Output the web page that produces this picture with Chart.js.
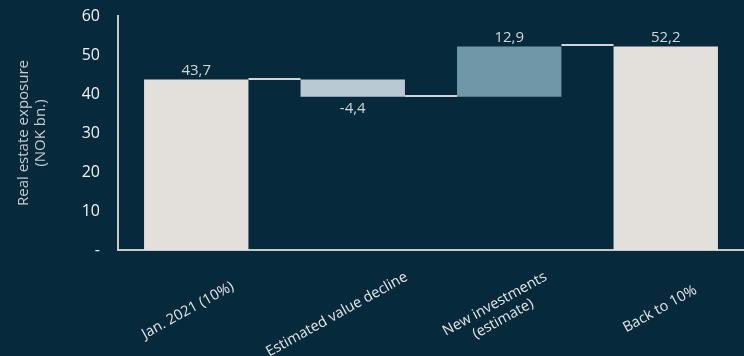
<!DOCTYPE html>
<html>
<head>
<meta charset="utf-8">
<script src="https://cdn.jsdelivr.net/npm/chart.js@4/dist/chart.umd.min.js"></script>
<style>
  html, body { margin: 0; padding: 0; background: #062a3b; }
  #wrap { width: 744px; height: 356px; position: relative; }
</style>
</head>
<body>
<div id="wrap"><canvas id="chart"></canvas></div>
<script>
// waterfall data (NOK bn.)
const categories = ["Jan. 2021 (10%)", "Estimated value decline", ["New investments", "(estimate)"], "Back to 10%"];
const steps = [43.7, -4.4, 12.9, 52.2];
const isTotal = [true, false, false, true];
const barColors = ["#e3e0dc", "#b8c9d3", "#6f97a8", "#e3e0dc"];
const yTicks = [0, 10, 20, 30, 40, 50, 60];

// build floating ranges from the steps
let running = 0;
const ranges = [];
const levels = [];
steps.forEach((v, i) => {
  if (isTotal[i]) {
    ranges.push([0, v]);
    running = v;
  } else {
    ranges.push([running, running + v]);
    running = running + v;
  }
  levels.push(running);
});

const fmt = (v) => v.toFixed(1).replace(".", ",");

// connectors between bars + value labels
const waterfallPlugin = {
  id: "waterfall",
  afterDatasetsDraw(chart) {
    const ctx = chart.ctx;
    const meta = chart.getDatasetMeta(0);
    const y = chart.scales.y;
    ctx.save();
    ctx.strokeStyle = "#d4d4d4";
    ctx.lineWidth = 2;
    for (let i = 0; i < meta.data.length - 1; i++) {
      const a = meta.data[i], b = meta.data[i + 1];
      const py = Math.round(y.getPixelForValue(levels[i])) - 1;
      ctx.beginPath();
      ctx.moveTo(a.x + a.width / 2, py);
      ctx.lineTo(b.x - b.width / 2, py);
      ctx.stroke();
    }
    ctx.fillStyle = "#d6d6d6";
    ctx.font = "15px 'Open Sans'";
    ctx.textAlign = "center";
    meta.data.forEach((bar, i) => {
      const v = steps[i];
      if (v >= 0) {
        ctx.textBaseline = "bottom";
        ctx.fillText(fmt(v), bar.x, y.getPixelForValue(Math.max(...ranges[i])) - 1);
      } else {
        ctx.textBaseline = "top";
        ctx.fillText(fmt(v), bar.x, y.getPixelForValue(Math.min(...ranges[i])) + 5);
      }
    });
    ctx.restore();
  }
};

// rotated category labels, anchored near their middle like the original
const xLabelPlugin = {
  id: "xLabels",
  afterDraw(chart) {
    const ctx = chart.ctx;
    const x = chart.scales.x;
    const angle = -29 * Math.PI / 180;
    const lineH = 17;
    ctx.save();
    ctx.fillStyle = "#e6e6e6";
    ctx.font = "14.5px 'Open Sans'";
    ctx.textAlign = "center";
    ctx.textBaseline = "middle";
    categories.forEach((label, i) => {
      const lines = Array.isArray(label) ? label : [label];
      const w = Math.max(...lines.map(l => ctx.measureText(l).width));
      ctx.save();
      ctx.translate(x.getPixelForTick(i) + 5, x.bottom - 53);
      ctx.rotate(angle);
      lines.forEach((l, j) => {
        ctx.fillText(l, -0.15 * w, (j - (lines.length - 1) / 2) * lineH);
      });
      ctx.restore();
    });
    ctx.restore();
  }
};

new Chart(document.getElementById("chart"), {
  type: "bar",
  data: {
    labels: categories,
    datasets: [{
      data: ranges,
      backgroundColor: barColors,
      borderWidth: 0,
      barPercentage: 0.667,
      categoryPercentage: 1
    }]
  },
  options: {
    responsive: true,
    maintainAspectRatio: false,
    animation: false,
    layout: { padding: { top: 16, left: 15, right: -4, bottom: 0 } },
    plugins: { legend: { display: false }, tooltip: { enabled: false } },
    scales: {
      x: {
        grid: { display: false, drawTicks: false },
        border: { color: "#c8c8c8", width: 2 },
        ticks: { display: false },
        afterFit(scale) { scale.height = 106; }
      },
      y: {
        min: 0,
        max: 60,
        afterBuildTicks(scale) { scale.ticks = yTicks.map(v => ({ value: v })); },
        grid: { display: false, drawTicks: false },
        border: { color: "#c8c8c8", width: 2 },
        ticks: {
          color: "#f2f2f2",
          font: { family: "'Open Sans'", size: 16 },
          padding: 18,
          callback: (v) => v === 0 ? "-" : v
        },
        title: {
          display: true,
          text: ["Real estate exposure", "(NOK bn.)"],
          color: "#c9ccd0",
          font: { family: "'Open Sans'", size: 15, lineHeight: 1.15 },
          padding: { top: 0, bottom: 14 }
        },
        afterFit(scale) {
          scale.width = 103;
          scale.paddingTop = 0;
          scale.paddingBottom = 0;
        }
      }
    }
  },
  plugins: [waterfallPlugin, xLabelPlugin]
});
</script>
</body>
</html>
